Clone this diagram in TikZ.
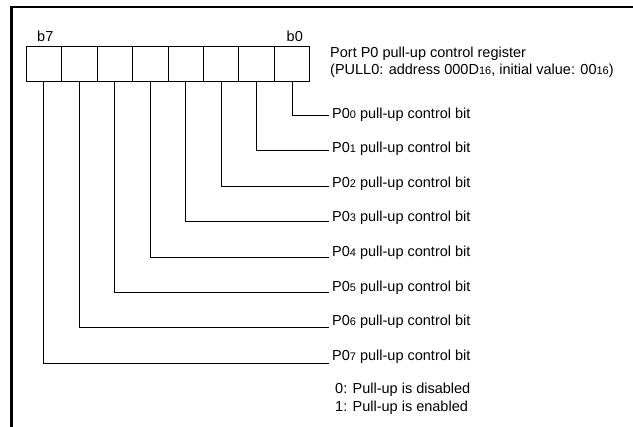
\documentclass[tikz,border=0pt]{standalone}
\usepackage{fontspec}
\setmainfont{Liberation Sans}
\newcommand{\smd}[1]{{\fontsize{11}{11}\selectfont #1}}
\begin{document}
\begin{tikzpicture}[x=1pt,y=-1pt,
  cell/.style={draw,line width=0.8pt,minimum width=35.45pt,minimum height=35pt,inner sep=0pt,anchor=north west},
  lbl/.style={anchor=base west,inner sep=0pt,font=\fontsize{14.5}{17}\selectfont},
  conn/.style={line width=0.8pt},
  frame/.style={line width=2.7pt}]
\useasboundingbox (0,0) rectangle (633,427);
\draw[frame] (11.3,428) -- (11.3,7) -- (634,7);
% register cells
\foreach \i/\b in {0/7,1/6,2/5,3/4,4/3,5/2,6/1,7/0}{
  \node[cell] (c\b) at ({25.7+35.45*\i},46) {};
}
\node[lbl] (b7) at (37,41.5) {b7};
\node[lbl] (b0) at (286.5,41.5) {b0};
\node[lbl] (t1) at (330,57.5) {Port P0 pull-up control register};
\node[lbl] (t2) at (330,74.3) {(PULL0: address 000D\smd{16}, initial value: 00\smd{16})};
% bit labels
\foreach \b in {0,...,7}{
  \node[lbl] (l\b) at (332,{118.3+34.55*\b}) {P0\smd{\b} pull-up control bit};
  \coordinate (e\b) at (329,{115.3+35.43*\b});
  \draw[conn] (c\b.south) |- (e\b);
}
\node[lbl] (n0) at (335,393.5) {0: Pull-up is disabled};
\node[lbl] (n1) at (335,412) {1: Pull-up is enabled};
\end{tikzpicture}
\end{document}
